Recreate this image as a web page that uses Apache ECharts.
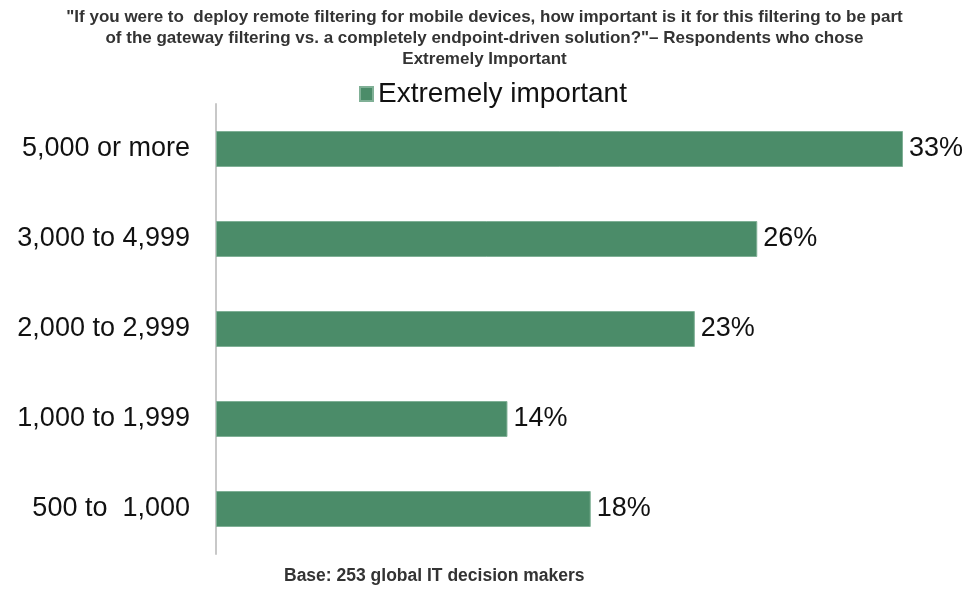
<!DOCTYPE html>
<html>
<head>
<meta charset="utf-8">
<script src="https://cdn.jsdelivr.net/npm/echarts@6/dist/echarts.min.js"></script>
<style>html,body{margin:0;padding:0;background:#fff}#chart{width:969px;height:592px}</style>
</head>
<body>
<div id="chart"></div>
<script>
// Company size bands, top to bottom as drawn
const categories = ['5,000 or more', '3,000 to 4,999', '2,000 to 2,999', '1,000 to 1,999', '500 to  1,000'];
// Share of respondents answering "Extremely important" (%)
const values = [33, 26, 23, 14, 18];
const seriesName = 'Extremely important';
const titleText = '"If you were to  deploy remote filtering for mobile devices, how important is it for this filtering to be part\nof the gateway filtering vs. a completely endpoint-driven solution?"\u2013 Respondents who chose\nExtremely Important';
const footerText = 'Base: 253 global IT decision makers';

const chart = echarts.init(document.getElementById('chart'));
chart.setOption({
  animation: false,
  title: {
    text: titleText,
    left: 'center',
    top: 2,
    textStyle: {
      fontFamily: 'Arial, Liberation Sans, sans-serif',
      fontSize: 17,
      fontWeight: 'bold',
      color: '#333',
      lineHeight: 21
    }
  },
  legend: {
    data: [{ name: seriesName, icon: 'rect' }],
    left: 354,
    top: 75,
    itemWidth: 13,
    itemHeight: 14,
    itemGap: 6,
    textStyle: { fontFamily: 'Arial, Liberation Sans, sans-serif', fontSize: 28, color: '#111' }
  },
  grid: { left: 216, top: 104, width: 687, height: 450, containLabel: false },
  xAxis: {
    type: 'value',
    min: 0,
    max: 33,
    show: false
  },
  yAxis: {
    type: 'category',
    inverse: true,
    data: categories,
    axisLine: { show: true, lineStyle: { color: '#c8c8c8', width: 2 } },
    axisTick: { show: false },
    axisLabel: {
      margin: 26,
      fontFamily: 'Arial, Liberation Sans, sans-serif',
      fontSize: 27,
      color: '#111'
    }
  },
  series: [{
    name: seriesName,
    type: 'bar',
    data: values,
    barWidth: '40%',
    itemStyle: { color: '#4b8c69', borderColor: '#80b096', borderWidth: 1 },
    label: {
      show: true,
      position: 'right',
      distance: 6,
      formatter: '{c}%',
      fontFamily: 'Arial, Liberation Sans, sans-serif',
      fontSize: 27,
      color: '#111'
    }
  }],
  graphic: [{
    type: 'text',
    left: 284,
    top: 567,
    style: {
      text: footerText,
      fontFamily: 'Arial, Liberation Sans, sans-serif',
      fontSize: 17.5,
      fontWeight: 'bold',
      fill: '#333'
    }
  }]
});
</script>
</body>
</html>
